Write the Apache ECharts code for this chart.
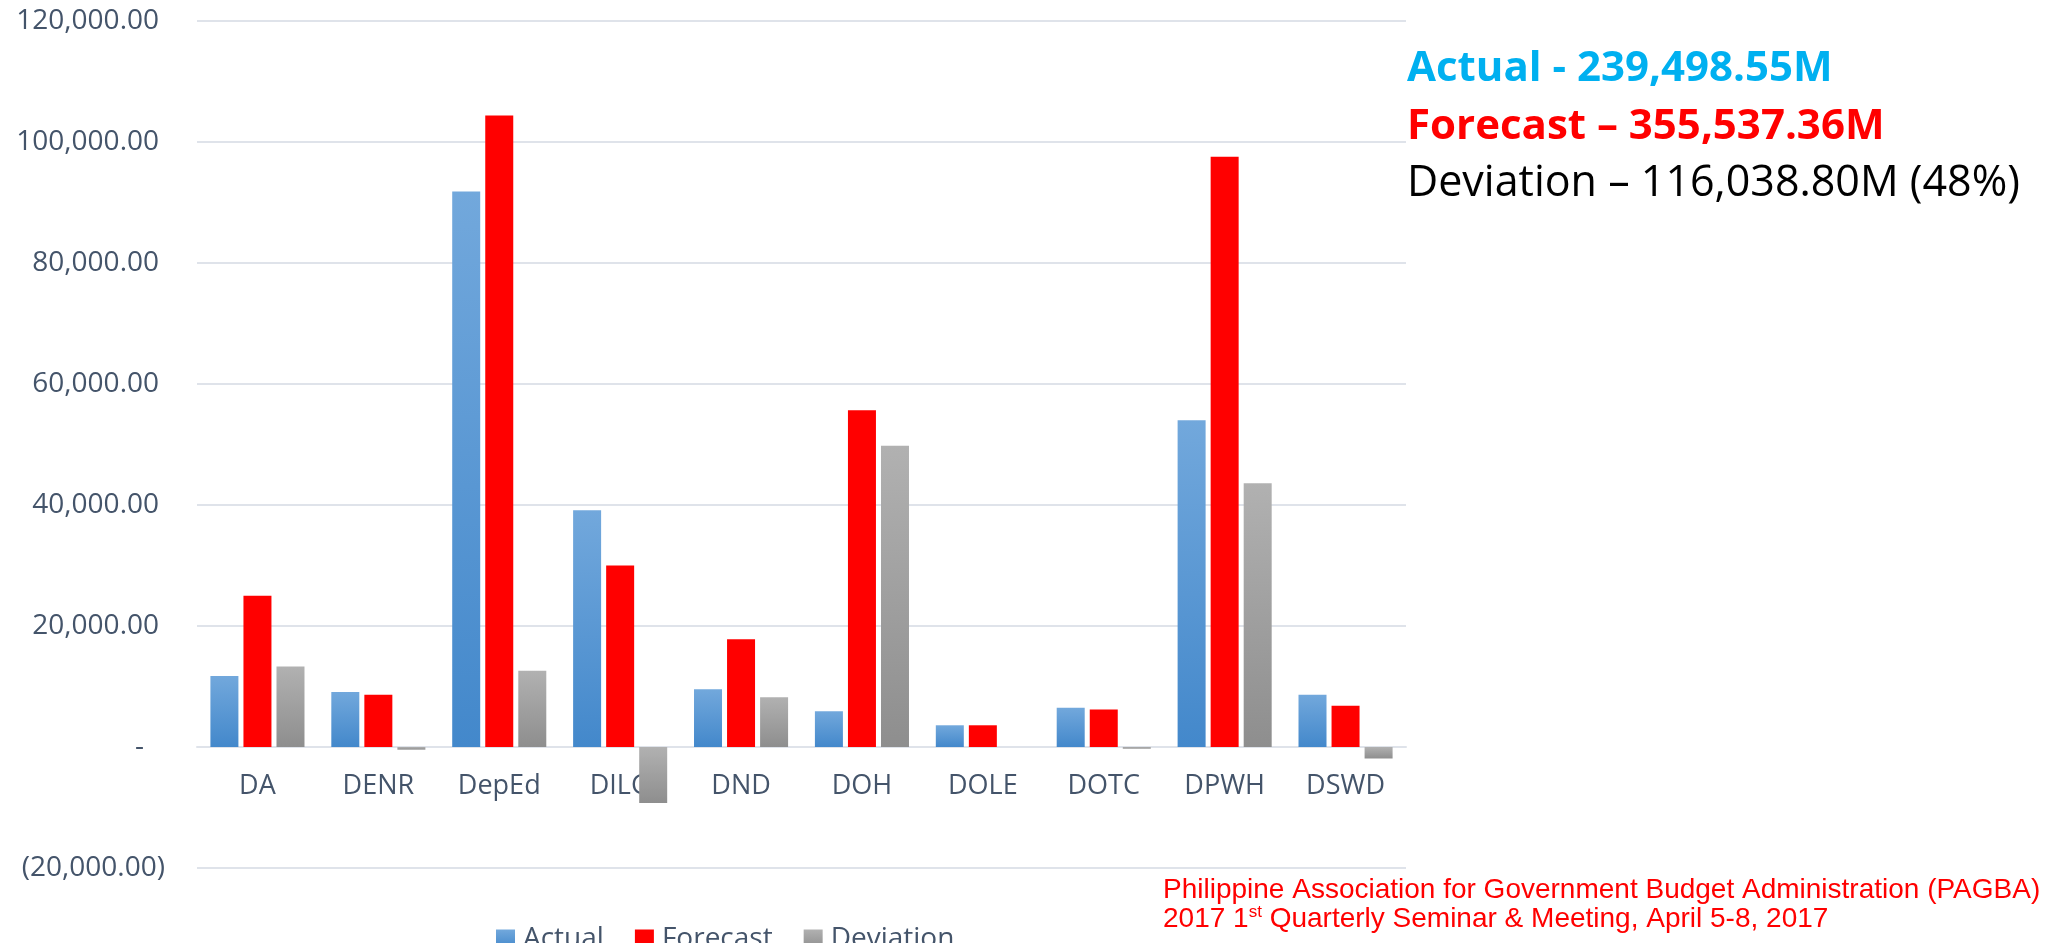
<!DOCTYPE html>
<html>
<head>
<meta charset="utf-8">
<script src="https://cdn.jsdelivr.net/npm/echarts@6/dist/echarts.min.js"></script>
<style>
html,body{margin:0;padding:0;background:#fff;}
#chart{width:2047px;height:943px;}
</style>
</head>
<body>
<div id="chart"></div>
<script>
const categories = ['DA','DENR','DepEd','DILG','DND','DOH','DOLE','DOTC','DPWH','DSWD'];
const actual   = [11740, 9090, 91830, 39140, 9540, 5900, 3590, 6470, 54000, 8630];
const forecast = [25000, 8650, 104380, 30010, 17800, 55660, 3590, 6200, 97560, 6800];
const deviation= [13300, -440, 12600, -9260, 8230, 49800, 0, -280, 43600, -1900];
const seriesNames = ['Actual','Forecast','Deviation'];
const yTicks = {min:-20000, max:120000, interval:20000};
const summaryLines = ['Actual - 239,498.55M', 'Forecast \u2013 355,537.36M', 'Deviation \u2013 116,038.80M (48%)'];
const footerLine1 = 'Philippine Association for Government Budget Administration (PAGBA)';
const footerLine2 = ['2017 1', 'st', ' Quarterly Seminar & Meeting, April 5-8, 2017'];

const axisColor = '#44546a';
const gridColor = '#dfe3ea';
const FONT = '"Open Sans", sans-serif';

const blueGrad = new echarts.graphic.LinearGradient(0,0,0,1,[{offset:0,color:'#72a8dc'},{offset:1,color:'#4388cb'}]);
const grayGrad = new echarts.graphic.LinearGradient(0,0,0,1,[{offset:0,color:'#b1b1b1'},{offset:1,color:'#8e8e8e'}]);

function fmtY(v){
  if (v === 0) return '{z|-}';
  const s = Math.abs(v).toLocaleString('en-US',{minimumFractionDigits:2, maximumFractionDigits:2});
  return v < 0 ? '{n|(' + s + ')}' : '{p|' + s + '}';
}
const lblStyle = {fontFamily:FONT, fontSize:28, color:axisColor};

const plotTop = 21, plotBottom = 75;
const plotH = 943 - plotTop - plotBottom;
// distance from bottom of plot up to the zero line, derived from the axis range
const zeroOffset = plotH * (0 - yTicks.min) / (yTicks.max - yTicks.min);

const chart = echarts.init(document.getElementById('chart'), null, {renderer:'canvas'});
chart.setOption({
  animation:false,
  backgroundColor:'#ffffff',
  grid:{left:197, right:641, top:plotTop, bottom:plotBottom, containLabel:false},
  legend:{
    left:491, top:920,
    itemWidth:19, itemHeight:19, itemGap:31,
    icon:'rect',
    textStyle:{fontFamily:FONT, fontSize:28, color:axisColor, padding:[0,0,0,3]},
    data:seriesNames
  },
  xAxis:{
    type:'category', data:categories,
    offset:-zeroOffset,
    axisLine:{show:true, onZero:false, lineStyle:{color:gridColor, width:2}},
    axisTick:{show:false},
    axisLabel:{fontFamily:FONT, fontSize:27, color:axisColor, margin:26},
    splitLine:{show:false}
  },
  yAxis:{
    type:'value', min:yTicks.min, max:yTicks.max, interval:yTicks.interval,
    axisLine:{show:false}, axisTick:{show:false},
    splitLine:{show:true, lineStyle:{color:gridColor, width:2}},
    axisLabel:{
      margin:32, formatter:fmtY,
      fontFamily:FONT, fontSize:28, color:axisColor,
      rich:{
        p:Object.assign({padding:[0,6,0,0]}, lblStyle),
        n:Object.assign({}, lblStyle),
        z:Object.assign({padding:[0,21,0,0]}, lblStyle)
      }
    }
  },
  series:[
    {name:seriesNames[0], type:'bar', data:actual, barWidth:28, barGap:'18%', itemStyle:{color:blueGrad}},
    {name:seriesNames[1], type:'bar', data:forecast, barWidth:28, barGap:'18%', itemStyle:{color:'#ff0000'}},
    {name:seriesNames[2], type:'bar', data:deviation, barWidth:28, barGap:'18%', itemStyle:{color:grayGrad}}
  ],
  graphic:[
    {type:'text', left:1407, top:48, style:{text:summaryLines[0], font:'bold 42px "Open Sans", sans-serif', fill:'#00b0f0'}},
    {type:'text', left:1407, top:106, style:{text:summaryLines[1], font:'bold 42px "Open Sans", sans-serif', fill:'#ff0000'}},
    {type:'text', left:1407, top:162, style:{text:summaryLines[2], font:'43px "Open Sans", sans-serif', fill:'#000000'}},
    {type:'text', left:1163, top:876, style:{text:footerLine1, font:'28px "Liberation Sans", Arial, sans-serif', fill:'#ff0000'}},
    {type:'text', left:1163, top:904, style:{
      text:'{a|' + footerLine2[0] + '}{s|' + footerLine2[1] + '}{a|' + footerLine2[2] + '}',
      rich:{
        a:{fontFamily:'"Liberation Sans", Arial, sans-serif', fontSize:28, fill:'#ff0000', color:'#ff0000', verticalAlign:'bottom'},
        s:{fontFamily:'"Liberation Sans", Arial, sans-serif', fontSize:17, fill:'#ff0000', color:'#ff0000', verticalAlign:'top', padding:[0,0,12,0]}
      }
    }}
  ]
});
</script>
</body>
</html>
